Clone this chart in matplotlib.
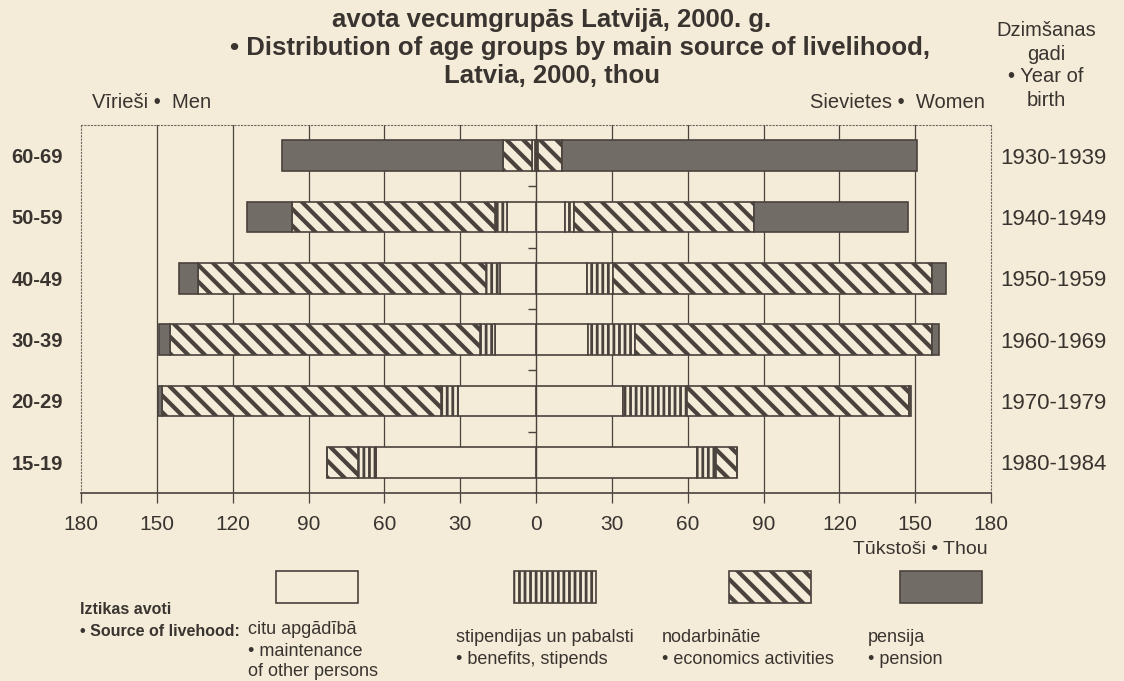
import matplotlib.pyplot as plt
from matplotlib.patches import Rectangle
import numpy as np

# age groups (top to bottom) and years of birth
ages = ['60-69', '50-59', '40-49', '30-39', '20-29', '15-19']
years = ['1930-1939', '1940-1949', '1950-1959', '1960-1969', '1970-1979', '1980-1984']

# men, thousands (from centre outwards)
men_maint = [0.3, 11.3, 14.2, 16.2, 30.9, 63.3]
men_benef = [1.2, 4.9, 5.7, 6.0, 6.7, 7.0]
men_econ = [11.4, 80.3, 113.7, 122.6, 110.5, 12.3]
men_pens = [87.6, 17.9, 7.6, 4.2, 1.6, 0.0]

# women, thousands
women_maint = [0.3, 11.5, 20.3, 20.7, 34.3, 63.8]
women_benef = [0.6, 3.5, 10.3, 18.5, 25.5, 7.3]
women_econ = [9.2, 71.3, 126.0, 117.4, 87.6, 8.6]
women_pens = [140.7, 60.9, 5.6, 2.9, 1.1, 0.0]

xticks = [0, 30, 60, 90, 120, 150, 180]

bg = '#f4ecd8'
ink = '#4a423c'
txt = '#3a3430'
pens_col = '#726c66'

plt.rcParams['font.family'] = ['Liberation Sans', 'DejaVu Sans']

W, H = 1124, 681


def fx(x):
    return x / W


def fy(y):
    return 1 - y / H


styles = [
    dict(fc=bg, hatch=None, hlw=1.0),
    dict(fc=bg, hatch='|||', hlw=2.0),
    dict(fc=bg, hatch='\\\\', hlw=3.0),
    dict(fc=pens_col, hatch=None, hlw=1.0),
]

fig = plt.figure(figsize=(11.24, 6.81), dpi=100, facecolor=bg)
top, bot = 125, 493
axL = fig.add_axes([fx(81), fy(bot), fx(536) - fx(81), (bot - top) / H])
axR = fig.add_axes([fx(536), fy(bot), fx(991) - fx(536), (bot - top) / H])

y = np.arange(len(ages))


def stack(ax, parts):
    left = np.zeros(len(ages))
    for vals, st in zip(parts, styles):
        with plt.rc_context({'hatch.linewidth': st['hlw'], 'hatch.color': ink}):
            ax.barh(y, vals, left=left, height=0.5, color=st['fc'],
                    edgecolor=ink, hatch=st['hatch'], linewidth=1.2, zorder=3)
        left += np.array(vals)


stack(axL, [men_maint, men_benef, men_econ, men_pens])
stack(axR, [women_maint, women_benef, women_econ, women_pens])

dots = (0, (1, 2))
for ax in (axL, axR):
    ax.set_facecolor(bg)
    ax.set_ylim(len(ages) - 0.5, -0.5)
    for v in xticks[1:-1]:
        ax.axvline(v, color=ink, lw=0.9, zorder=1)
    ax.spines['bottom'].set_color(ink)
    ax.spines['bottom'].set_linewidth(1.2)
    ax.spines['top'].set_linestyle(dots)
    ax.spines['top'].set_color('#6f665f')
    ax.tick_params(axis='x', direction='out', length=7, color=ink, width=0.9,
                   labelsize=15, labelcolor=txt, pad=9)

axL.set_xlim(180, 0)
axR.set_xlim(0, 180)
axL.set_xticks(xticks[1:])
axR.set_xticks(xticks)

axL.spines['right'].set_visible(False)
axL.spines['left'].set_linestyle(dots)
axL.spines['left'].set_color('#6f665f')
axR.spines['right'].set_linestyle(dots)
axR.spines['right'].set_color('#6f665f')
axR.spines['left'].set_color(ink)
axR.spines['left'].set_linewidth(1.0)
axR.spines['left'].set_zorder(4)

axL.set_yticks(y, ages)
axL.tick_params(axis='y', length=0, pad=13, labelsize=14.5, labelcolor=txt)
for t in axL.get_yticklabels():
    t.set_fontweight('bold')

axR.set_yticks(y, years)
axR.set_yticks(y[:-1] + 0.5, minor=True)
axR.tick_params(axis='y', which='major', left=False, right=False,
                labelleft=False, labelright=True, pad=3, labelsize=16, labelcolor=txt)
axR.tick_params(axis='y', which='minor', left=True, right=False, direction='out',
                length=6, color=ink, width=1.0)

# titles and labels
fig.text(fx(552), fy(20), 'avota vecumgrupās Latvijā, 2000. g.', ha='center', va='center',
         fontsize=18.5, fontweight='bold', color=txt)
fig.text(fx(580), fy(48), '• Distribution of age groups by main source of livelihood,',
         ha='center', va='center', fontsize=18.5, fontweight='bold', color=txt)
fig.text(fx(552), fy(76), 'Latvia, 2000, thou', ha='center', va='center',
         fontsize=18.5, fontweight='bold', color=txt)

for line, ty in zip(['Dzimšanas', 'gadi', '• Year of', 'birth'], [31, 54, 76, 100]):
    fig.text(fx(1046), fy(ty), line, ha='center', va='center', fontsize=14.5, color=txt)

fig.text(fx(92), fy(102), 'Vīrieši •  Men', ha='left', va='center', fontsize=14.5, color=txt)
fig.text(fx(985), fy(102), 'Sievietes •  Women', ha='right', va='center', fontsize=14.5,
         color=txt)
fig.text(fx(988), fy(549), 'Tūkstoši • Thou', ha='right', va='center', fontsize=14,
         color=txt)

# legend
fig.text(fx(80), fy(609), 'Iztikas avoti', ha='left', va='center', fontsize=11.5,
         fontweight='bold', color=txt)
fig.text(fx(80), fy(631), '• Source of livehood:', ha='left', va='center', fontsize=11.5,
         fontweight='bold', color=txt)

legend_items = [
    (248, 276, ['citu apgādībā', '• maintenance', 'of other persons'], 630),
    (456, 514, ['stipendijas un pabalsti', '• benefits, stipends'], 638),
    (662, 729, ['nodarbinātie', '• economics activities'], 638),
    (868, 900, ['pensija', '• pension'], 638),
]
for (tx, bx, lines, ty), st in zip(legend_items, styles):
    with plt.rc_context({'hatch.linewidth': st['hlw'], 'hatch.color': ink}):
        r = Rectangle((fx(bx), fy(603)), 82 / W, 32 / H, transform=fig.transFigure,
                      facecolor=st['fc'], edgecolor=ink, hatch=st['hatch'], linewidth=1.2)
    fig.patches.append(r)
    for i, line in enumerate(lines):
        fig.text(fx(tx), fy(ty + 21 * i), line, ha='left', va='center', fontsize=13,
                 color=txt)

plt.savefig('out.png', dpi=100, facecolor=bg)
